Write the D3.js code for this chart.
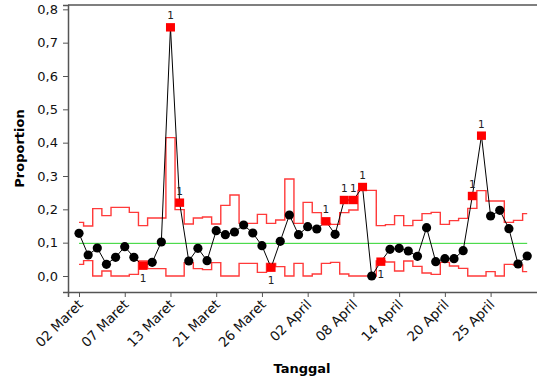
<!DOCTYPE html>
<html>
<head>
  <meta charset="utf-8">
  <style type="text/css">
    body { margin: 0; background: #fff; }
    svg { display: block; font-family: "DejaVu Sans", Verdana, sans-serif; }
    .axis .domain { stroke: #555; stroke-width: 1.5; }
    .axis line { stroke: #555; }
  </style>
</head>
<body>
<svg width="537" height="379"></svg>
<script src="https://d3js.org/d3.v7.min.js"></script>
<script>
  // proportion per sample (Minitab P chart)
  var prop = [0.128, 0.063, 0.084, 0.035, 0.056, 0.088, 0.056, 0.031, 0.041, 0.102,
              0.746, 0.220, 0.045, 0.083, 0.046, 0.136, 0.124, 0.132, 0.153, 0.129,
              0.091, 0.025, 0.104, 0.183, 0.124, 0.148, 0.141, 0.164, 0.125, 0.228,
              0.228, 0.267, 0.000, 0.043, 0.080, 0.083, 0.075, 0.059, 0.145, 0.043,
              0.052, 0.052, 0.076, 0.240, 0.421, 0.180, 0.197, 0.142, 0.036, 0.060];
  var ucl = [0.161, 0.150, 0.202, 0.181, 0.206, 0.206, 0.191, 0.151, 0.174, 0.174,
             0.415, 0.199, 0.156, 0.174, 0.177, 0.156, 0.212, 0.243, 0.158, 0.158,
             0.185, 0.158, 0.168, 0.291, 0.158, 0.221, 0.190, 0.158, 0.155, 0.190,
             0.198, 0.257, 0.257, 0.151, 0.154, 0.181, 0.151, 0.167, 0.187, 0.191,
             0.155, 0.166, 0.173, 0.203, 0.256, 0.225, 0.225, 0.161, 0.167, 0.187];
  var lcl = [0.035, 0.046, 0.000, 0.015, 0.000, 0.000, 0.005, 0.045, 0.022, 0.022,
             0.000, 0.000, 0.040, 0.022, 0.019, 0.040, 0.000, 0.000, 0.038, 0.038,
             0.011, 0.038, 0.028, 0.000, 0.038, 0.000, 0.006, 0.038, 0.041, 0.006,
             0.000, 0.000, 0.000, 0.045, 0.042, 0.015, 0.045, 0.029, 0.009, 0.005,
             0.041, 0.030, 0.023, 0.000, 0.000, 0.013, 0.000, 0.035, 0.033, 0.013];
  var centerLine = 0.098;
  // samples flagged by test 1
  var flagged = [8, 11, 12, 22, 28, 30, 31, 32, 34, 44, 45];

  var tickIndex = [1, 6, 11, 16, 21, 26, 31, 36, 41, 46];
  var tickLabels = ["02 Maret", "07 Maret", "13 Maret", "21 Maret", "26 Maret",
                    "02 April", "08 April", "14 April", "20 April", "25 April"];
  var yTicks = [0, 0.1, 0.2, 0.3, 0.4, 0.5, 0.6, 0.7, 0.8];

  var svg = d3.select("svg");
  var mLeft = 68, mRight = 540, mTop = 5, mBottom = 292;

  var x = d3.scaleLinear().domain([-0.203, 51.4]).range([mLeft, mRight]);
  var y = d3.scaleLinear().domain([-0.048, 0.813]).range([mBottom, mTop]);

  var idx = d3.range(1, prop.length + 1);
  var half = 0.5;

  // step lines for control limits
  function stepPath(arr) {
    var pts = [];
    arr.forEach(function(v, i) {
      var k = i + 1;
      var x0 = Math.max(1, k - half), x1 = Math.min(arr.length, k + half);
      pts.push([x(x0), y(v)], [x(x1), y(v)]);
    });
    return d3.line()(pts);
  }

  // frame
  svg.append("line")
    .attr("x1", mLeft).attr("x2", mRight).attr("y1", mTop).attr("y2", mTop)
    .attr("stroke", "#555").attr("stroke-width", 1.5);

  svg.append("path").attr("d", stepPath(ucl))
    .attr("fill", "none").attr("stroke", "#ff3a3a").attr("stroke-width", 1.4);
  svg.append("path").attr("d", stepPath(lcl))
    .attr("fill", "none").attr("stroke", "#ff3a3a").attr("stroke-width", 1.4);

  svg.append("line")
    .attr("x1", x(1)).attr("x2", x(prop.length))
    .attr("y1", y(centerLine)).attr("y2", y(centerLine))
    .attr("stroke", "#2ad42a").attr("stroke-width", 1);

  svg.append("path")
    .datum(prop)
    .attr("fill", "none").attr("stroke", "#000").attr("stroke-width", 1)
    .attr("d", d3.line().x(function(d, i) { return x(i + 1); }).y(function(d) { return y(d); }));

  var normal = idx.filter(function(k) { return flagged.indexOf(k) < 0; });
  svg.append("g").selectAll("circle")
    .data(normal)
    .enter().append("circle")
      .attr("cx", function(k) { return x(k); })
      .attr("cy", function(k) { return y(prop[k - 1]); })
      .attr("r", 4.6)
      .attr("fill", "#000");

  svg.append("g").selectAll("rect")
    .data(flagged)
    .enter().append("rect")
      .attr("x", function(k) { return x(k) - 4.5; })
      .attr("y", function(k) { return y(prop[k - 1]) - 4.2; })
      .attr("width", 9).attr("height", 8.4)
      .attr("fill", "#ff0000");

  svg.append("g").selectAll("text")
    .data(flagged)
    .enter().append("text")
      .attr("x", function(k) { return x(k); })
      .attr("y", function(k) {
        var v = prop[k - 1];
        return v < lcl[k - 1] ? y(v) + 16 : y(v) - 8;
      })
      .attr("text-anchor", "middle")
      .attr("font-size", 10.5)
      .attr("fill", "#222")
      .text("1");

  // axes
  svg.append("g")
    .attr("class", "axis")
    .attr("transform", "translate(" + mLeft + ",0)")
    .call(d3.axisLeft(y).tickValues(yTicks).tickSizeOuter(0).tickSize(5).tickPadding(5)
      .tickFormat(function(d) { return d3.format(".1f")(d).replace(".", ","); }))
    .call(function(g) {
      g.selectAll("text").attr("font-size", 13).attr("fill", "#111").attr("font-family", "DejaVu Sans");
    });

  var xAxis = svg.append("g")
    .attr("class", "axis")
    .attr("transform", "translate(0," + mBottom + ")")
    .call(d3.axisBottom(x).tickValues(tickIndex).tickSizeOuter(0).tickSize(5)
      .tickFormat(function(d, i) { return tickLabels[i]; }));

  xAxis.selectAll("text")
    .attr("font-size", 13.5)
    .attr("font-family", "DejaVu Sans")
    .attr("fill", "#111")
    .attr("text-anchor", "end")
    .attr("dy", "0.35em")
    .attr("transform", "translate(1,10) rotate(-45)")
    .attr("x", 0).attr("y", 0);

  svg.append("text")
    .attr("transform", "translate(24," + ((mTop + mBottom) / 2) + ") rotate(-90)")
    .attr("text-anchor", "middle")
    .attr("font-size", 13).attr("font-weight", "bold")
    .text("Proportion");

  svg.append("text")
    .attr("x", 302).attr("y", 373)
    .attr("text-anchor", "middle")
    .attr("font-size", 13).attr("font-weight", "bold")
    .text("Tanggal");
</script>
</body>
</html>
